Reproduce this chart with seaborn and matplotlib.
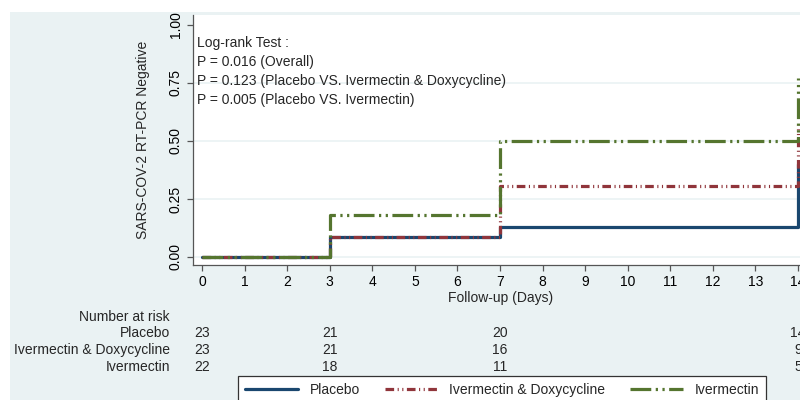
import numpy as np
import pandas as pd
import matplotlib
matplotlib.use("Agg")
import matplotlib.pyplot as plt
import seaborn as sns
from matplotlib.patches import Rectangle
from matplotlib.transforms import blended_transform_factory

# ---- data ----
groups = ["Placebo", "Ivermectin & Doxycycline", "Ivermectin"]
days = [0, 3, 7, 14]
placebo_vals = [0.0, 0.087, 0.130, 0.40]
ivm_doxy_vals = [0.0, 0.087, 0.304, 0.57]
ivm_vals = [0.0, 0.182, 0.50, 0.77]

risk_days = [0, 3, 7, 14]
risk_placebo = [23, 21, 20, 14]
risk_ivm_doxy = [23, 21, 16, 9]
risk_ivm = [22, 18, 11, 5]

x_ticks = list(range(0, 15))
y_ticks = [0.0, 0.25, 0.50, 0.75, 1.00]
y_tick_labels = ["0.00", "0.25", "0.50", "0.75", "1.00"]

annot_lines = [
    "Log-rank Test :",
    "P = 0.016 (Overall)",
    "P = 0.123 (Placebo VS. Ivermectin & Doxycycline)",
    "P = 0.005 (Placebo VS. Ivermectin)",
]

colors = {"Placebo": "#1a476f", "Ivermectin & Doxycycline": "#90353b", "Ivermectin": "#55752f"}
dashes = {"Placebo": "", "Ivermectin & Doxycycline": (2.7, 1.1, 0.35, 1.1, 0.35, 1.1),
          "Ivermectin": (6.5, 1.4, 0.7, 1.4, 0.7, 1.4)}

df = pd.DataFrame({
    "day": days * 3,
    "value": placebo_vals + ivm_doxy_vals + ivm_vals,
    "group": [groups[0]] * 4 + [groups[1]] * 4 + [groups[2]] * 4,
})

# ---- style ----
sns.set_theme(style="white")
plt.rcParams["font.family"] = ["Liberation Sans", "DejaVu Sans"]
plt.rcParams["font.size"] = 10

W, H = 800, 400
fig = plt.figure(figsize=(8, 4), dpi=100, facecolor="white")
fig.patches.append(Rectangle((10 / W, 0), 790 / W, 388 / H, transform=fig.transFigure,
                             facecolor="#EAF2F3", edgecolor="none", zorder=-10))

ax_l, ax_r, ax_t, ax_b = 193, 809, 15, 265
ax = fig.add_axes([ax_l / W, 1 - ax_b / H, (ax_r - ax_l) / W, (ax_b - ax_t) / H])
ax.set_facecolor("white")

sns.lineplot(data=df, x="day", y="value", hue="group", style="group",
             hue_order=groups, style_order=groups, palette=colors, dashes=dashes,
             drawstyle="steps-post", linewidth=2.3, estimator=None, ax=ax)
for ln in ax.get_lines():
    ln.set_dash_capstyle("butt")

ax.set_xlim(-0.211, 14.26)
ax.set_ylim(-0.0345, 1.043)
ax.set_xticks(x_ticks)
ax.set_yticks(y_ticks)
ax.set_yticklabels(y_tick_labels)
for lab in ax.get_yticklabels():
    lab.set_rotation(90)
    lab.set_va("center")
ax.tick_params(axis="both", direction="out", length=4.5, width=0.9, color="#555555",
               labelsize=10, labelcolor="black", pad=3)
ax.tick_params(axis="y", left=True)
ax.tick_params(axis="x", bottom=True)

ax.yaxis.grid(True, color="#EAF2F3", linewidth=1.2)
ax.set_axisbelow(True)
ax.yaxis.get_gridlines()[-1].set_visible(False)

for s in ["top", "right"]:
    ax.spines[s].set_visible(False)
for s in ["left", "bottom"]:
    ax.spines[s].set_color("#555555")
    ax.spines[s].set_linewidth(0.9)

ax.set_ylabel("SARS-COV-2 RT-PCR Negative", fontsize=10)
ax.yaxis.set_label_coords((143 - ax_l) / (ax_r - ax_l), 0.5)
ax.set_xlabel("Follow-up (Days)", fontsize=10)
ax.xaxis.set_label_coords((501 - ax_l) / (ax_r - ax_l), -(298 - ax_b) / (ax_b - ax_t))
ax.xaxis.label.set_va("center")
ax.yaxis.label.set_va("center")

# annotation
for line, yp in zip(annot_lines, [43, 62, 81, 100]):
    fig.text(197 / W, 1 - yp / H, line, ha="left", va="center", fontsize=10)

# number at risk table
fig.text(170 / W, 1 - 317 / H, "Number at risk", ha="right", va="center", fontsize=10)
trans = blended_transform_factory(ax.transData, fig.transFigure)
for name, vals, yp in zip(groups, [risk_placebo, risk_ivm_doxy, risk_ivm], [333, 350, 367]):
    fig.text(170 / W, 1 - yp / H, name, ha="right", va="center", fontsize=10)
    for d, v in zip(risk_days, vals):
        ax.text(d, 1 - yp / H, str(v), transform=trans, ha="center", va="center",
                fontsize=10, clip_on=False)

# legend
sns.move_legend(ax, loc="upper left", bbox_to_anchor=(238 / W, 1 - 376 / H),
                bbox_transform=fig.transFigure, ncol=3, title=None, frameon=True,
                fancybox=False, edgecolor="#333333", framealpha=1, fontsize=10,
                handlelength=3.8, handletextpad=0.85, columnspacing=1.8,
                borderpad=0.5, borderaxespad=0)
leg = ax.get_legend()
leg.get_frame().set_linewidth(0.9)
for h in leg.get_lines():
    h.set_linewidth(2.3)

fig.savefig("out.png", dpi=100)
